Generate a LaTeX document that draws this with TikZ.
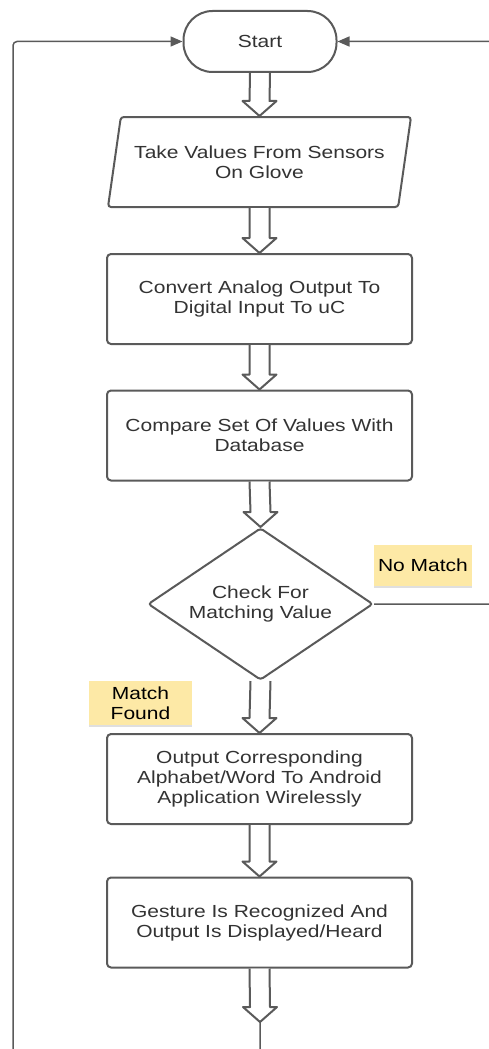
\documentclass[tikz,border=0pt]{standalone}
\usepackage{fontspec}
\setmainfont{Liberation Sans}[FakeStretch=1.2]
\usetikzlibrary{arrows.meta, positioning, calc, shapes.geometric, shadows}

\definecolor{linegray}{HTML}{5A5A5A}
\definecolor{textgray}{HTML}{333333}
\definecolor{noteyellow}{HTML}{FDE9A6}

% hollow block arrow between two nodes
\newcommand{\fatarrow}[2]{%
  \draw[fatarrow] ($(#1.south)+(-10,0)$) -- ($(#2.north)+(-10,-15)$)
    -- ($(#2.north)+(-17,-15)$) -- (#2.north) -- ($(#2.north)+(17,-15)$)
    -- ($(#2.north)+(10,-15)$) -- ($(#1.south)+(10,0)$);}

\begin{document}
\begin{tikzpicture}[x=1pt, y=-1pt, >={Triangle[length=12pt, width=10pt]},
		every node/.style={font=\fontsize{17.5}{20}\selectfont, text=textgray, align=center},
		terminal/.style={rectangle, draw=linegray, line width=2pt, rounded corners=29pt, minimum width=153pt, minimum height=61pt, fill=white},
		process/.style={rectangle, draw=linegray, line width=2pt, rounded corners=4pt, minimum width=305pt, minimum height=90pt, fill=white},
		io/.style={trapezium, trapezium left angle=72, trapezium right angle=108, trapezium stretches body, draw=linegray, line width=2pt, rounded corners=3pt, minimum width=303pt, minimum height=90pt, fill=white},
		decision/.style={diamond, aspect=1.48, draw=linegray, line width=2pt, rounded corners=3pt, minimum width=225pt, minimum height=152pt, inner sep=0pt, fill=white},
		note/.style={rectangle, fill=noteyellow, text=black, inner sep=0pt, drop shadow={opacity=0.25, shadow xshift=0pt, shadow yshift=-2pt}},
		fatarrow/.style={draw=linegray, line width=2pt, fill=white, line join=round},
		flow/.style={draw=linegray, line width=1.5pt, rounded corners=4pt}]

		\useasboundingbox (0,0) rectangle (488,1049);

		% Blocks
		\node[terminal] (start) at (260, 41.5) {Start};
		\node[io] (sensors) at (259.5, 162) {Take Values From Sensors\\On Glove};
		\node[process] (convert) at (259.5, 299) {Convert Analog Output To\\Digital Input To uC};
		\node[process] (compare) at (259.5, 435.5) {Compare Set Of Values With\\Database};
		\node[decision] (check) at (260.5, 604) {Check For\\Matching Value};
		\node[process] (output) at (259.5, 779) {Output Corresponding\\Alphabet/Word To Android\\Application Wirelessly};
		\node[process] (gesture) at (259.5, 922.5) {Gesture Is Recognized And\\Output Is Displayed/Heard};
		\coordinate (endtip) at (260, 1022);

		% Notes
		\node[note, minimum width=98pt, minimum height=41pt] (nomatch) at (423, 565) {No Match};
		\node[note, minimum width=103pt, minimum height=44pt] (found) at (140.5, 703) {Match\\Found};

		% Block arrows
		\fatarrow{start}{sensors}
		\fatarrow{sensors}{convert}
		\fatarrow{convert}{compare}
		\fatarrow{compare}{check}
		\fatarrow{check}{output}
		\fatarrow{output}{gesture}
		\draw[fatarrow] ($(gesture.south)+(-10,0)$) -- ($(endtip)+(-10,-15)$)
			-- ($(endtip)+(-17,-15)$) -- (endtip) -- ($(endtip)+(17,-15)$)
			-- ($(endtip)+(10,-15)$) -- ($(gesture.south)+(10,0)$);

		% Loops back to start
		\draw[flow, ->] (endtip) -- (260, 1070) -| (13, 500) |- (start.west);
		\draw[flow, ->] (check.east) -- (510, 604) |- (start.east);

	\end{tikzpicture}
\end{document}
